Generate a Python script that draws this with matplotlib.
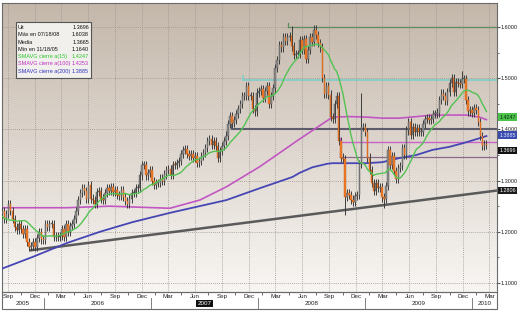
import numpy as np
import matplotlib
matplotlib.use('Agg')
import matplotlib.pyplot as plt
import matplotlib.dates as mdates
import pandas as pd
from matplotlib.patches import Rectangle

plt.rcParams['font.family'] = ['Liberation Sans Narrow', 'Liberation Sans', 'DejaVu Sans']

# weekly closes (Friday)
closes_2005 = [1.2850, 1.2650, 1.2600, 1.2550,
               1.2300, 1.2150, 1.2250, 1.2100,
               1.1950, 1.1920, 1.2050, 1.2130, 1.2270,
               1.2350, 1.2400, 1.2250, 1.2350,
               1.2550, 1.2400, 1.2250, 1.2100, 1.2030,
               1.2150, 1.2050, 1.1950, 1.2050,
               1.1800, 1.1700, 1.1720, 1.1800,
               1.1700, 1.1880, 1.2000, 1.1850, 1.1840]
closes_2006 = [1.2150, 1.2100, 1.2150, 1.2150,
               1.1900, 1.1920, 1.1900, 1.1920,
               1.2050, 1.1900, 1.2150, 1.2000, 1.2120,
               1.2150, 1.2250, 1.2400, 1.2620,
               1.2750, 1.2850, 1.2800, 1.2650,
               1.2920, 1.2650, 1.2620, 1.2550, 1.2780,
               1.2800, 1.2650, 1.2620, 1.2750,
               1.2850, 1.2800, 1.2880, 1.2780,
               1.2820, 1.2720, 1.2700, 1.2820, 1.2680,
               1.2600, 1.2550, 1.2650, 1.2750,
               1.2760, 1.2850, 1.2850, 1.3100,
               1.3300, 1.3300, 1.3100, 1.3150, 1.3200]
closes_2007 = [1.3000, 1.2920, 1.2950, 1.2950,
               1.3040, 1.3000, 1.3120, 1.3200,
               1.3220, 1.3110, 1.3310, 1.3300, 1.3350,
               1.3380, 1.3520, 1.3600, 1.3620,
               1.3520, 1.3480, 1.3520, 1.3450,
               1.3480, 1.3350, 1.3380, 1.3480, 1.3540,
               1.3630, 1.3780, 1.3820, 1.3700,
               1.3780, 1.3680, 1.3450, 1.3580, 1.3670,
               1.3780, 1.3880, 1.4100, 1.4260,
               1.4130, 1.4180, 1.4300, 1.4400,
               1.4500, 1.4650, 1.4650, 1.4850, 1.4650,
               1.4650, 1.4400, 1.4350, 1.4720]
closes_2008 = [1.4750, 1.4780, 1.4620, 1.4750,
               1.4850, 1.4500, 1.4650, 1.4800, 1.5200,
               1.5350, 1.5650, 1.5600, 1.5800,
               1.5720, 1.5800, 1.5820, 1.5620,
               1.5450, 1.5480, 1.5480, 1.5750, 1.5550,
               1.5770, 1.5380, 1.5550, 1.5800,
               1.5700, 1.5950, 1.5850, 1.5690,
               1.5600, 1.5000, 1.4700, 1.4850, 1.4680,
               1.4250, 1.4200, 1.4500, 1.4650,
               1.3780, 1.3450, 1.3420, 1.2680, 1.2750,
               1.2720, 1.2630, 1.2580, 1.2700,
               1.2720, 1.3320, 1.4050, 1.4050]
closes_2009 = [1.3950, 1.3450, 1.3200, 1.2950, 1.2800,
               1.2950, 1.2850, 1.2880, 1.2670,
               1.2650, 1.2900, 1.3600, 1.3300,
               1.3480, 1.3180, 1.3040, 1.3250,
               1.3280, 1.3640, 1.3500, 1.3980, 1.4150,
               1.3900, 1.4050, 1.3950, 1.4030,
               1.3950, 1.3950, 1.4100, 1.4200, 1.4230,
               1.4180, 1.4200, 1.4300, 1.4300,
               1.4330, 1.4580, 1.4700, 1.4660,
               1.4560, 1.4730, 1.4910, 1.5010, 1.4740,
               1.4920, 1.4900, 1.4880, 1.4980,
               1.4980, 1.4580, 1.4350, 1.4370]
closes_2010 = [1.4320, 1.4410, 1.4380, 1.4140, 1.3870, 1.3680, 1.3720, 1.3690]

closes = closes_2005 + closes_2006 + closes_2007 + closes_2008 + closes_2009 + closes_2010
weeks = pd.date_range('2005-05-06', periods=len(closes), freq='W-FRI')

week_highs = {'2008-04-25': 1.6019, '2008-07-18': 1.6038, '2008-12-19': 1.4720, '2009-11-27': 1.5144}
week_lows = {'2005-11-18': 1.1640, '2008-10-24': 1.2330, '2009-03-06': 1.2457}

# longer averages
sma100_dates = ['2005-08-11', '2006-03-20', '2006-08-14', '2006-11-24', '2007-03-07', '2007-06-17',
                '2007-09-16', '2008-01-07', '2008-03-15', '2008-05-22', '2008-07-29', '2008-09-12',
                '2008-11-09', '2009-01-06', '2009-03-01', '2009-04-28', '2009-06-25', '2009-08-19',
                '2009-10-16', '2009-12-13', '2010-01-26', '2010-02-19']
sma100_vals = [1.247, 1.247, 1.250, 1.248, 1.246, 1.262,
               1.288, 1.327, 1.354, 1.381, 1.407, 1.424,
               1.425, 1.424, 1.422, 1.422, 1.425, 1.428,
               1.428, 1.428, 1.424, 1.419]
sma200_dates = ['2005-08-11', '2005-11-24', '2006-03-20', '2006-07-11', '2006-10-31', '2007-03-07',
                '2007-09-16', '2008-01-07', '2008-04-28', '2008-05-22', '2008-07-05', '2008-08-26',
                '2008-09-12', '2009-01-06', '2009-03-01', '2009-04-28', '2009-06-25', '2009-08-19',
                '2009-10-16', '2009-12-13', '2010-02-19']
sma200_vals = [1.128, 1.151, 1.178, 1.200, 1.219, 1.237,
               1.262, 1.285, 1.307, 1.315, 1.326, 1.333,
               1.334, 1.334, 1.336, 1.344, 1.350, 1.360,
               1.366, 1.375, 1.387]

# drawn levels and trend line
level_vals = [1.600, 1.497, 1.400, 1.375, 1.346]
level_starts = ['2008-04-12', '2007-11-10', '2007-10-04', '2008-10-07', '2008-10-07']
level_colors = ['#5f8a5f', '#86cdc8', '#5c5c6c', '#c864c8', '#8a6a8a']
level_widths = [0.9, 1.3, 1.5, 1.0, 0.9]
trend_dates = ['2005-11-18', '2010-03-27']
trend_vals = [1.164, 1.2806]

legend_rows = [('Ult', '1.3696'), ('Máx en 07/18/08', '1.6038'), ('Media', '1.3665'),
               ('Mín en 11/18/05', '1.1640'), ('SMAVG cierre a(15)', '1.4247'),
               ('SMAVG cierre a(100)', '1.4253'), ('SMAVG cierre a(200)', '1.3885')]
legend_colors = ['#111111', '#111111', '#111111', '#111111', '#2fc42f', '#c030c0', '#3434c0']

# right side value tags: (price position, text, box colour, text colour)
tag_pos = [1.4242, 1.3890, 1.3580, 1.2807]
tag_text = ['1.4247', '1.3885', '1.3696', '1.2806']
tag_bg = ['#4cc24c', '#3a4cae', '#111111', '#1a1a1a']
tag_fg = ['#0d2a0d', '#dfe4ff', '#ffffff', '#ffffff']

df = pd.DataFrame({'close': closes}, index=weeks)
df['open'] = df['close'].shift(1).fillna(df['close'])
wick = 0.008
df['high'] = df[['open', 'close']].max(axis=1) + wick
df['low'] = df[['open', 'close']].min(axis=1) - wick
for d, v in week_highs.items():
    df.loc[pd.Timestamp(d), 'high'] = v
for d, v in week_lows.items():
    df.loc[pd.Timestamp(d), 'low'] = v
df['sma15'] = df['close'].rolling(15).mean()

x0 = pd.Timestamp('2005-08-11')
x1 = pd.Timestamp('2010-03-27')
y0, y1 = 1.0824, 1.6469

fig = plt.figure(figsize=(5.2, 3.12), dpi=100)
fig.patch.set_facecolor('white')
ax = fig.add_axes([2/520, 20/312, 495/520, 289/312])

# background gradient
grad = np.linspace(0, 1, 256).reshape(-1, 1)
top = np.array([196, 183, 170]) / 255
bot = np.array([248, 246, 243]) / 255
img = top + (bot - top) * grad[:, :, None]
ax.imshow(img, extent=[mdates.date2num(x0), mdates.date2num(x1), y0, y1],
          aspect='auto', origin='upper', zorder=0)

ax.set_xlim(x0, x1)
ax.set_ylim(y0, y1)

# grid
qtr = pd.date_range('2005-09-01', '2010-03-01', freq='QS-MAR')
for d in qtr:
    ax.axvline(d, color='#9a928a', lw=0.6, ls=(0, (1, 1.5)), zorder=1)
for p in [1.1, 1.2, 1.3, 1.4, 1.5, 1.6]:
    ax.axhline(p, color='#9a928a', lw=0.6, ls=(0, (1, 1.5)), zorder=1)

# moving averages
ax.plot(pd.to_datetime(sma200_dates), sma200_vals, color='#4646b4', lw=1.3, zorder=3)
ax.plot(pd.to_datetime(sma100_dates), sma100_vals, color='#c256c2', lw=1.2, zorder=3)
ax.plot(df.index, df['sma15'], color='#52c252', lw=1.0, zorder=5)

# levels
for v, s, c, w in zip(level_vals, level_starts, level_colors, level_widths):
    s = pd.Timestamp(s)
    ax.plot([s, x1], [v, v], color=c, lw=w, zorder=2)
    ax.plot([s, s], [v, v + 0.008], color=c, lw=w, zorder=2)
ax.plot(pd.to_datetime(trend_dates), trend_vals, color='#5a5a5a', lw=1.8, zorder=2)

# candles
up = df['close'] >= df['open']
ax.vlines(df.index, df['low'], df['high'], color='#3c3c3c', lw=0.7, zorder=4)
body = (df['close'] - df['open']).abs().clip(lower=0.002)
bottom = df[['open', 'close']].min(axis=1)
ax.bar(df.index[up], body[up], bottom=bottom[up], width=5, color='#8c8c8c',
       edgecolor='#505050', lw=0.3, zorder=4)
ax.bar(df.index[~up], body[~up], bottom=bottom[~up], width=5, color='#f07a2a',
       edgecolor='#c85a10', lw=0.3, zorder=4)

# y axis on the right
ax.yaxis.tick_right()
ax.set_yticks([1.1, 1.2, 1.3, 1.4, 1.5, 1.6])
ax.set_yticklabels(['%.4f' % t for t in [1.1, 1.2, 1.3, 1.4, 1.5, 1.6]])
ax.set_yticks(np.arange(1.15, 1.65, 0.1), minor=True)
ax.tick_params(axis='y', which='major', labelsize=4.0, pad=0.8, length=2,
               color='#555555', labelcolor='#222222')
ax.tick_params(axis='y', which='minor', length=1.5, color='#555555')

# x axis months
ax.set_xticks(qtr)
ax.set_xticklabels([d.strftime('%b') for d in qtr])
ax.set_xticks(qtr[:-1] + pd.Timedelta(days=45), minor=True)
ax.tick_params(axis='x', which='major', labelsize=4.5, pad=1.5, length=0,
               labelcolor='#222222')
ax.tick_params(axis='x', which='minor', length=2, color='#555555', direction='out')

for sp in ax.spines.values():
    sp.set_color('#6a6a6a')
    sp.set_linewidth(0.8)

# year row
trans = ax.get_xaxis_transform()
years = [2005, 2006, 2007, 2008, 2009, 2010]
for yr in years:
    a = max(pd.Timestamp(f'{yr}-01-01'), x0)
    b = min(pd.Timestamp(f'{yr + 1}-01-01'), x1)
    mid = a + (b - a) / 2
    if yr == 2007:
        ax.text(mid, -0.040, str(yr), transform=trans, ha='center', va='center',
                fontsize=4.5, color='white',
                bbox=dict(boxstyle='square,pad=0.2', fc='#111111', ec='none'))
    else:
        ax.text(mid, -0.040, str(yr), transform=trans, ha='center', va='center',
                fontsize=4.5, color='#222222')
    if yr > 2005:
        ax.plot([pd.Timestamp(f'{yr}-01-01')] * 2, [-0.022, -0.060], transform=trans,
                color='#6a6a6a', lw=0.6, clip_on=False)
ax.add_patch(Rectangle((0, -0.060), 1, 0.060, transform=ax.transAxes, fill=False,
                       ec='#6a6a6a', lw=0.8, clip_on=False))

# value tags on the right
for p, t, bg, fg in zip(tag_pos, tag_text, tag_bg, tag_fg):
    ax.text(1.005, p, t, transform=ax.get_yaxis_transform(), fontsize=3.9,
            color=fg, ha='left', va='center',
            bbox=dict(boxstyle='square,pad=0.2', fc=bg, ec='none'))

# legend box
fig.add_artist(Rectangle((16/520, 1 - 78/312), 75/520, 56/312, transform=fig.transFigure,
                         fc='#f1f0ed', ec='#555555', lw=0.8))
for i, ((lab, val), c) in enumerate(zip(legend_rows, legend_colors)):
    yy = 1 - (27.5 + i * 7.3) / 312
    fig.text(18/520, yy, lab, fontsize=4.0, color=c, ha='left', va='center')
    fig.text(89/520, yy, val, fontsize=4.0, color=c, ha='right', va='center')

fig.savefig('out.png', dpi=100)
